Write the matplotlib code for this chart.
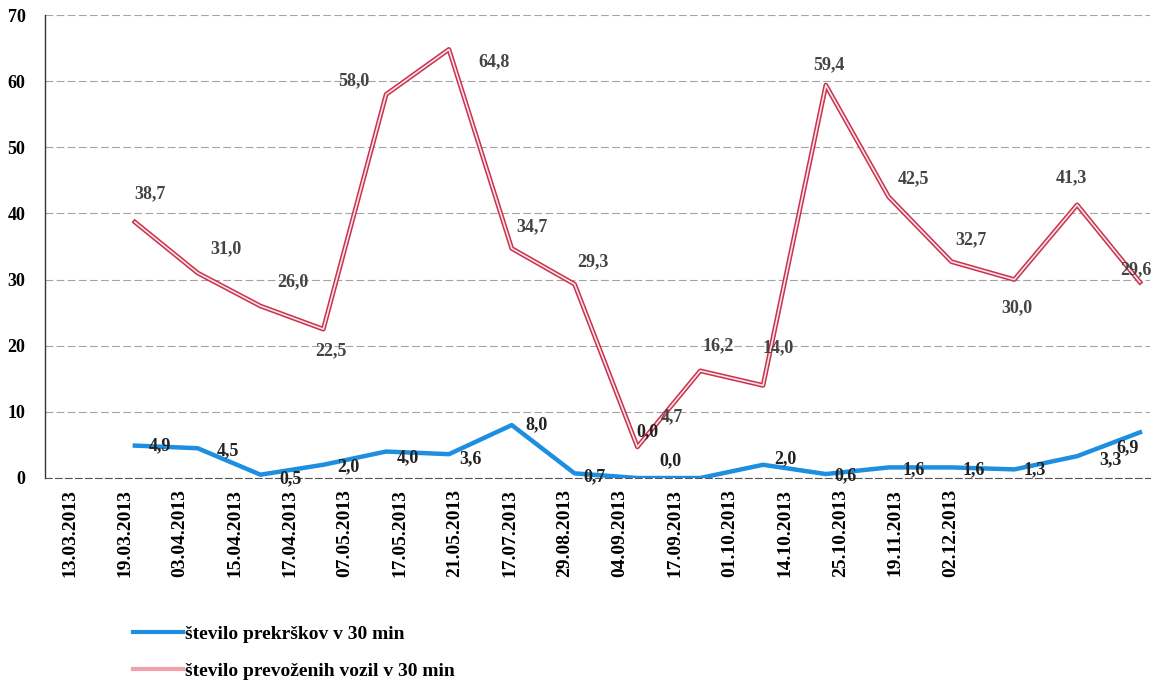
import numpy as np
import matplotlib
matplotlib.use("Agg")
from matplotlib import pyplot as plt
from matplotlib.lines import Line2D
import matplotlib.patheffects as pe

# data
dates = ['13.03.2013', '19.03.2013', '03.04.2013', '15.04.2013', '17.04.2013',
         '07.05.2013', '17.05.2013', '21.05.2013', '17.07.2013', '29.08.2013',
         '04.09.2013', '17.09.2013', '01.10.2013', '14.10.2013', '25.10.2013',
         '19.11.2013', '02.12.2013']
prekrski = [4.9, 4.5, 0.5, 2.0, 4.0, 3.6, 8.0, 0.7, 0.0, 0.0, 2.0, 0.6, 1.6, 1.6, 1.3, 3.3, 6.9]
vozila = [38.7, 31.0, 26.0, 22.5, 58.0, 64.8, 34.7, 29.3, 4.7, 16.2, 14.0, 59.4, 42.5, 32.7, 30.0, 41.3, 29.6]
yticks = [0, 10, 20, 30, 40, 50, 60, 70]

label_blue = ['število prekrškov v 30 min']
label_red = ['število prevoženih vozil v 30 min']

# label offsets in pixels (dx, dy), as placed in the original
off_red = [(15, 28), (28, 24), (32, 24), (8, -22), (-32, 14), (45, -12), (20, 22), (18, 22),
           (35, 30), (18, 25), (15, 38), (3, 20), (25, 18), (20, 22), (3, -28), (-6, 27), (-4, 12)]
off_blue = [(25, 0), (30, -2), (30, -4), (25, -2), (22, -6), (22, -5), (25, 0), (20, -3),
            (10, 46), (-30, 17), (22, 6), (20, -2), (25, -2), (22, -2), (20, 0), (33, -4), (-12, -15)]

serif = ['Liberation Serif', 'DejaVu Serif']
plt.rcParams['font.family'] = serif
plt.rcParams['font.weight'] = 'bold'

fig = plt.figure(figsize=(11.57, 6.84), dpi=100)
ax = fig.add_axes([45 / 1157, 1 - 478 / 684, 1105 / 1157, 463 / 684])

x = np.arange(len(vozila))
blue = '#1e8ee0'
red = '#c8324f'

ax.plot(x, prekrski, color=blue, lw=3.2, zorder=3)
ax.plot(x, vozila, color=red, lw=3.4, zorder=3,
        path_effects=[pe.Stroke(linewidth=3.4, foreground=red),
                      pe.Stroke(linewidth=1.2, foreground='#fbe3e6')])

for xi, v, (dx, dy) in zip(x, vozila, off_red):
    ax.annotate(('%.1f' % v).replace('.', ','), (xi, v), xytext=(dx, dy),
                textcoords='offset pixels', ha='center', va='center',
                fontsize=13, fontweight='bold', color='#444444')
for xi, v, (dx, dy) in zip(x, prekrski, off_blue):
    ax.annotate(('%.1f' % v).replace('.', ','), (xi, v), xytext=(dx, dy),
                textcoords='offset pixels', ha='center', va='center',
                fontsize=13, fontweight='bold', color='#222222')

ax.set_ylim(0, 70)
ax.set_yticks(yticks)
ax.set_xlim(-1.43, 16.16)
# tick labels in the scan sit on a narrower spacing than the points
ax.set_xticks(np.arange(len(dates)) * 0.876 - 1.035)
ax.set_xticklabels(dates, rotation=90, fontsize=14, fontweight='bold')
ax.tick_params(axis='both', length=0, pad=8)
ax.tick_params(axis='y', labelsize=13, pad=14)

ax.grid(axis='y', color='#666666', linestyle=(0, (7, 3)), lw=0.8, alpha=0.6)
ax.grid(axis='x', visible=False)
for s in ['top', 'right']:
    ax.spines[s].set_visible(False)
ax.spines['left'].set_color('#333333')
ax.spines['left'].set_linewidth(1)
ax.spines['bottom'].set_color('#555555')
ax.spines['bottom'].set_linestyle((0, (6, 3)))
ax.spines['bottom'].set_linewidth(0.8)

handles = [Line2D([], [], color=blue, lw=3), Line2D([], [], color='#f4a0aa', lw=3)]
fig.legend(handles, label_blue + label_red, loc='upper left',
           bbox_to_anchor=(115 / 1157, 1 - 608 / 684), frameon=False,
           prop={'family': serif, 'weight': 'bold', 'size': 14},
           handlelength=2.6, handletextpad=0.1, labelspacing=1.0)

fig.savefig('out.png', dpi=100, facecolor='white')
